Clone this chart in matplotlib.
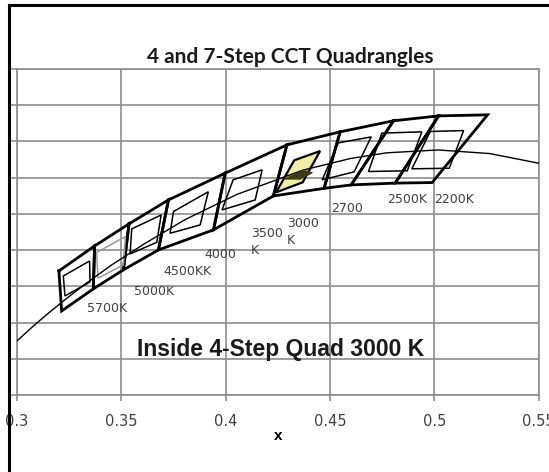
import matplotlib
matplotlib.use("Agg")
import matplotlib.pyplot as plt
from matplotlib.lines import Line2D

# CCT bins, left to right
cct_names = ["5700K", "5000K", "4500K", "4000K", "3500K", "3000K", "2700K", "2500K", "2200K"]

# 7-step quadrangle boundaries (shared edges): upper and lower ends
edge_top_x = [0.3201, 0.3372, 0.3537, 0.3726, 0.3998, 0.4294, 0.4549, 0.4805, 0.5021, 0.5256]
edge_top_y = [0.3485, 0.3623, 0.3745, 0.3877, 0.4025, 0.4181, 0.4253, 0.4314, 0.4341, 0.4347]
edge_bot_x = [0.3214, 0.3366, 0.3510, 0.3678, 0.3942, 0.4229, 0.4472, 0.4602, 0.4813, 0.4990]
edge_bot_y = [0.3264, 0.3386, 0.3491, 0.3601, 0.3712, 0.3899, 0.3941, 0.3960, 0.3970, 0.3973]

# 4-step quadrangles, corners TL, TR, BR, BL
quad4_x = [
    [0.3222, 0.3348, 0.3350, 0.3230],  # 5700
    [0.3382, 0.3520, 0.3510, 0.3388],  # 5000
    [0.3550, 0.3691, 0.3670, 0.3542],  # 4500
    [0.3750, 0.3917, 0.3878, 0.3734],  # 4000
    [0.4036, 0.4175, 0.4142, 0.3983],  # 3500
    [0.4329, 0.4453, 0.4369, 0.4242],  # 3000
    [0.4540, 0.4698, 0.4616, 0.4463],  # 2700
    [0.4749, 0.4941, 0.4871, 0.4685],  # 2500
    [0.4981, 0.5141, 0.5072, 0.4893],  # 2200
]
quad4_y = [
    [0.3457, 0.3540, 0.3424, 0.3347],
    [0.3587, 0.3675, 0.3518, 0.3445],
    [0.3717, 0.3794, 0.3643, 0.3579],
    [0.3813, 0.3922, 0.3739, 0.3693],
    [0.3988, 0.4043, 0.3877, 0.3822],
    [0.4096, 0.4147, 0.3974, 0.3919],
    [0.4192, 0.4225, 0.4032, 0.3988],
    [0.4246, 0.4253, 0.4038, 0.4034],
    [0.4255, 0.4260, 0.4052, 0.4049],
]

# black body locus
locus_x = [0.2952, 0.3064, 0.3135, 0.3221, 0.3325, 0.3451, 0.3611, 0.3805, 0.4053,
           0.4369, 0.4599, 0.4770, 0.5019, 0.5267, 0.5496, 0.5646]
locus_y = [0.3048, 0.3166, 0.3237, 0.3318, 0.3411, 0.3516, 0.3635, 0.3768, 0.3907,
           0.4041, 0.4106, 0.4137, 0.4153, 0.4133, 0.4081, 0.4029]

# test point marker inside the 3000 K quad
point_x = [0.4285, 0.4372, 0.4415, 0.4357]
point_y = [0.3993, 0.4040, 0.4027, 0.3993]

xticks = [0.3, 0.35, 0.4, 0.45, 0.5, 0.55]
xtick_labels = ["0.3", "0.35", "0.4", "0.45", "0.5", "0.55"]

W, H = 549, 472
fig = plt.figure(figsize=(W / 100, H / 100), dpi=100)
ax = fig.add_axes([17 / W, 1 - 395 / H, (538.5 - 17) / W, (395 - 69) / H])

# 7-step quads (thick)
for i in range(len(cct_names)):
    qx = [edge_top_x[i], edge_top_x[i + 1], edge_bot_x[i + 1], edge_bot_x[i], edge_top_x[i]]
    qy = [edge_top_y[i], edge_top_y[i + 1], edge_bot_y[i + 1], edge_bot_y[i], edge_top_y[i]]
    ax.plot(qx, qy, color="black", lw=2.0, solid_joinstyle="miter", zorder=3)

# 4-step quads (thin), 5000K grey, 3000K highlighted
for name, qx, qy in zip(cct_names, quad4_x, quad4_y):
    if name == "3000K":
        ax.fill(qx, qy, facecolor="#f0eeaa", edgecolor="black", lw=1.6, zorder=4)
    else:
        col = "#9a9a9a" if name == "5000K" else "black"
        ax.fill(qx, qy, fill=False, edgecolor=col, lw=1.1, zorder=4)

ax.plot(locus_x, locus_y, color="black", lw=1.0, zorder=5)
ax.fill(point_x, point_y, color="#3b3a14", zorder=6)

# CCT labels
lab_kw = dict(fontsize=9, color="#404040", family="DejaVu Sans", zorder=7)
ax.text(0.3432, 0.3275, "5700K", ha="center", va="center", **lab_kw)
ax.text(0.3657, 0.3369, "5000K", ha="center", va="center", **lab_kw)
ax.text(0.3818, 0.3482, "4500KK", ha="center", va="center", **lab_kw)
ax.text(0.3976, 0.3576, "4000", ha="center", va="center", **lab_kw)
ax.text(0.4122, 0.3725, "3500\nK", ha="left", va="top", linespacing=1.4, **lab_kw)
ax.text(0.4295, 0.3785, "3000\nK", ha="left", va="top", linespacing=1.4, **lab_kw)
ax.text(0.4580, 0.3830, "2700", ha="center", va="center", **lab_kw)
ax.text(0.4868, 0.3877, "2500K", ha="center", va="center", **lab_kw)
ax.text(0.5096, 0.3880, "2200K", ha="center", va="center", **lab_kw)

ax.text(0.4266, 0.3050, "Inside 4-Step Quad 3000 K", ha="center", va="center",
        fontsize=16.5, fontweight="bold", family="Liberation Sans", color="#1a1a1a", zorder=7)

ax.set_xlim(0.3, 0.55)
ax.set_ylim(0.28, 0.46)
ax.set_xticks(xticks)
ax.set_xticklabels(xtick_labels, fontsize=10.5, color="#404040", family="DejaVu Sans")
ax.set_yticks([0.28 + 0.02 * k for k in range(10)])
ax.tick_params(axis="y", labelleft=False, length=5, color="#8c8c8c", width=1.2)
ax.tick_params(axis="x", length=4, pad=10, color="#8c8c8c", width=1.2)
ax.grid(color="#8c8c8c", lw=1.2)
ax.set_axisbelow(True)
for sp in ax.spines.values():
    sp.set_color("#8c8c8c")
    sp.set_linewidth(1.2)
ax.set_xlabel("x", fontsize=11, fontweight="bold", family="Liberation Sans", labelpad=0)

fig.text(290 / W, 1 - 57 / H, "4 and 7-Step CCT Quadrangles", ha="center", va="center",
         fontsize=15, fontweight="bold", family="Lato", color="#1a1a1a")

# chart frame (cropped)
fig.add_artist(Line2D([8.5 / W, 8.5 / W], [0, 1 - 5 / H], color="black", lw=2.2))
fig.add_artist(Line2D([8.5 / W, 1], [1 - 5 / H, 1 - 5 / H], color="black", lw=2.2))

fig.savefig("out.png", dpi=100)
